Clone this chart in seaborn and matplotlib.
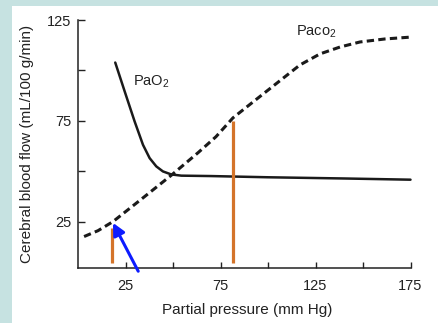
import numpy as np
import pandas as pd
import seaborn as sns
import matplotlib.pyplot as plt
from matplotlib.patches import Rectangle

# curves (partial pressure mm Hg -> flow mL/100 g/min)
pao2_x = [19.6, 24.6, 29.8, 34.2, 37.7, 41.2, 44.7, 49.1, 54.4, 70.0, 100.0, 140.0, 175.0]
pao2_y = [103.9, 89.5, 74.7, 63.1, 56.5, 52.4, 49.9, 48.4, 47.8, 47.6, 47.0, 46.4, 45.8]

paco2_x = [3.2, 10.5, 18.4, 33.7, 49.5, 63.2, 72.6, 81.6, 98.9, 116.8, 127.4, 137.9,
           148.4, 161.6, 176.3]
paco2_y = [17.6, 20.5, 25.0, 36.4, 48.3, 59.2, 67.1, 76.5, 89.4, 102.7, 108.2, 111.6,
           114.1, 115.6, 116.6]

marker_x = [17.7, 81.4]
marker_top = [22.0, 74.7]
marker_bottom = 4.7

arrow_tip = (18.4, 24.4)
arrow_tail = (31.7, 0.4)

x_ticks = [25, 50, 75, 100, 125, 150, 175]
x_labels = ["25", "", "75", "", "125", "", "175"]
y_ticks = [25, 50, 75, 100, 125]
y_labels = ["25", "", "75", "", "125"]

sns.set_style("ticks")
plt.rcParams['font.family'] = ['Liberation Sans', 'DejaVu Sans']
plt.rcParams['mathtext.fontset'] = 'custom'
plt.rcParams['mathtext.rm'] = 'Liberation Sans'
plt.rcParams['mathtext.it'] = 'Liberation Sans'
plt.rcParams['mathtext.default'] = 'regular'

fig = plt.figure(figsize=(4.38, 3.23), dpi=100, facecolor="#c6e2e1")
# white page area of the scan
fig.patches.append(Rectangle((12 / 438, 0), 1, (323 - 6) / 323, transform=fig.transFigure,
                             facecolor="white", edgecolor="none", zorder=-10))
ax = fig.add_axes([78 / 438, 55 / 323, 338.2 / 438, 248 / 323])
ax.set_facecolor("none")

pao2 = pd.DataFrame({"x": pao2_x, "y": pao2_y})
paco2 = pd.DataFrame({"x": paco2_x, "y": paco2_y})
sns.lineplot(data=pao2, x="x", y="y", ax=ax, color="#1a1a1a", lw=1.8, sort=False)
sns.lineplot(data=paco2, x="x", y="y", ax=ax, color="#1a1a1a", lw=2.2, sort=False,
             dashes=False, linestyle=(0, (2.4, 1.4)), clip_on=False)

ax.vlines(marker_x, marker_bottom, marker_top, color="#d4742a", lw=2.3)
ax.annotate("", xy=arrow_tip, xytext=arrow_tail, annotation_clip=False,
            arrowprops=dict(arrowstyle="-|>", color="#0d1cff", lw=2.2,
                            mutation_scale=18, shrinkA=0, shrinkB=0))

ax.text(29, 94.5, "PaO$_2$", fontsize=10.5, va="center", color="#222222")
ax.text(115, 119.2, "Paco$_2$", fontsize=10.5, va="center", color="#222222")

ax.set_xlim(0, 178)
ax.set_ylim(2, 125)
ax.set_xticks(x_ticks)
ax.set_xticklabels(x_labels)
ax.set_yticks(y_ticks)
ax.set_yticklabels(y_labels)
ax.tick_params(axis="x", direction="in", length=4, width=1, pad=8, labelsize=10.5, colors="#222222")
ax.tick_params(axis="y", direction="in", length=5, width=1, pad=5, labelsize=10.5, colors="#222222")
ax.spines["top"].set_visible(False)
ax.spines["right"].set_visible(False)
ax.spines["bottom"].set_bounds(0, 175)
for s in ("left", "bottom"):
    ax.spines[s].set_color("#222222")
    ax.spines[s].set_linewidth(1.1)

ax.set_xlabel("Partial pressure (mm Hg)", fontsize=11, color="#222222", labelpad=7)
ax.set_ylabel("Cerebral blood flow (mL/100 g/min)", fontsize=11, color="#222222", labelpad=9)

fig.savefig("out.png", dpi=100)
